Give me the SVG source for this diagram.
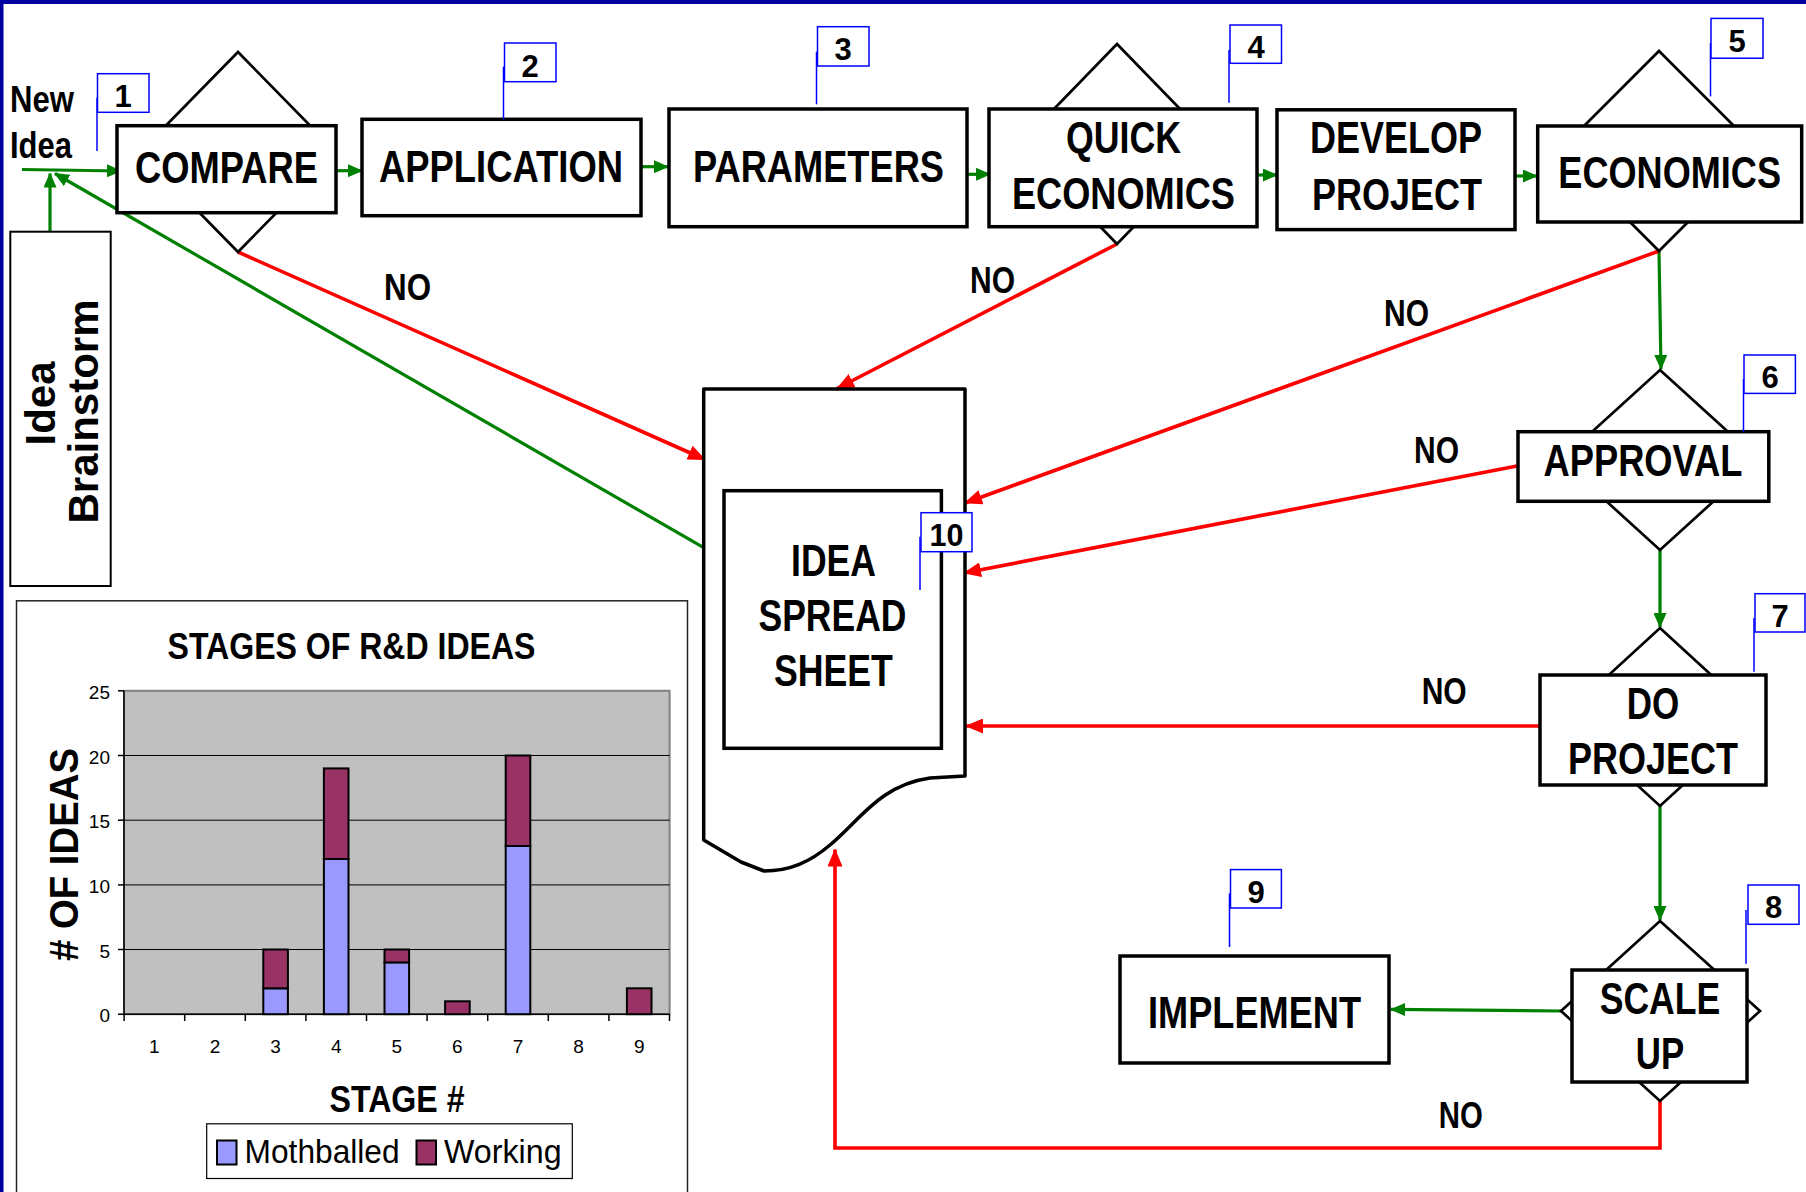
<svg xmlns="http://www.w3.org/2000/svg" width="1806" height="1192" viewBox="0 0 1806 1192">
<style>
.box{fill:#fff;stroke:#000;stroke-width:3.5}
.dia{fill:#fff;stroke:#000;stroke-width:2.7}
.lbl{font-family:"Liberation Sans Narrow","Liberation Sans",Arial,sans-serif;font-weight:bold;font-size:44px;fill:#000;text-anchor:middle}
.no{font-family:"Liberation Sans Narrow","Liberation Sans",Arial,sans-serif;font-weight:bold;font-size:36px;fill:#000}
.num{font-family:"Liberation Sans Narrow","Liberation Sans",Arial,sans-serif;font-weight:bold;font-size:31px;fill:#000;text-anchor:middle}
.tag{fill:#fff;stroke:#0000ff;stroke-width:1.5}
.lead{stroke:#0000ff;stroke-width:1.5;fill:none}
.g{stroke:#008000;stroke-width:3.2;fill:none;marker-end:url(#ga)}
.r{stroke:#ff0000;stroke-width:3.6;fill:none;marker-end:url(#ra)}
.ax{font-family:"Liberation Sans Narrow","Liberation Sans",Arial,sans-serif;font-size:19px;fill:#000}
.mb{fill:#9999ff;stroke:#000;stroke-width:2}
.wk{fill:#993366;stroke:#000;stroke-width:2}
</style>
<defs>
<marker id="ga" markerUnits="userSpaceOnUse" markerWidth="15" markerHeight="13" refX="14" refY="6.5" orient="auto"><path d="M0,0 L15,6.5 L0,13 z" fill="#008000"/></marker>
<marker id="ra" markerUnits="userSpaceOnUse" markerWidth="18" markerHeight="15" refX="17" refY="7.5" orient="auto"><path d="M0,0 L18,7.5 L0,15 z" fill="#ff0000"/></marker>
</defs>
<rect width="1806" height="1192" fill="#fff"/>
<rect x="0" y="0" width="1806" height="4" fill="#0000a0"/>
<rect x="0" y="0" width="3.5" height="1192" fill="#0000a0"/>

<!-- chart -->
<g id="chart">
<rect x="16.5" y="600.8" width="671" height="600" fill="#fff" stroke="#222" stroke-width="1.5"/>
<text x="351.5" y="658.5" class="lbl" style="font-size:36px" textLength="368" lengthAdjust="spacingAndGlyphs">STAGES OF R&amp;D IDEAS</text>
<rect x="124" y="690.8" width="545.6" height="323.4" fill="#c0c0c0" stroke="#808080" stroke-width="2"/>
<g stroke="#000" stroke-width="1">
<line x1="124" y1="755.5" x2="669.6" y2="755.5"/>
<line x1="124" y1="820.2" x2="669.6" y2="820.2"/>
<line x1="124" y1="884.9" x2="669.6" y2="884.9"/>
<line x1="124" y1="949.5" x2="669.6" y2="949.5"/>
</g>
<g stroke="#000" stroke-width="1.5">
<line x1="124" y1="690.8" x2="124" y2="1014.2"/>
<line x1="118" y1="1014.2" x2="669.6" y2="1014.2"/>
<line x1="118" y1="690.8" x2="124" y2="690.8"/>
<line x1="118" y1="755.5" x2="124" y2="755.5"/>
<line x1="118" y1="820.2" x2="124" y2="820.2"/>
<line x1="118" y1="884.9" x2="124" y2="884.9"/>
<line x1="118" y1="949.5" x2="124" y2="949.5"/>
<line x1="124.1" y1="1014.2" x2="124.1" y2="1021"/>
<line x1="184.7" y1="1014.2" x2="184.7" y2="1021"/>
<line x1="245.3" y1="1014.2" x2="245.3" y2="1021"/>
<line x1="305.9" y1="1014.2" x2="305.9" y2="1021"/>
<line x1="366.5" y1="1014.2" x2="366.5" y2="1021"/>
<line x1="427.1" y1="1014.2" x2="427.1" y2="1021"/>
<line x1="487.7" y1="1014.2" x2="487.7" y2="1021"/>
<line x1="548.3" y1="1014.2" x2="548.3" y2="1021"/>
<line x1="608.9" y1="1014.2" x2="608.9" y2="1021"/>
<line x1="669.5" y1="1014.2" x2="669.5" y2="1021"/>
</g>
<g class="ax" text-anchor="end">
<text x="110" y="699">25</text>
<text x="110" y="763.7">20</text>
<text x="110" y="828.4">15</text>
<text x="110" y="893.1">10</text>
<text x="110" y="957.7">5</text>
<text x="110" y="1022.4">0</text>
</g>
<g class="ax" text-anchor="middle">
<text x="154.4" y="1052.7">1</text>
<text x="215" y="1052.7">2</text>
<text x="275.6" y="1052.7">3</text>
<text x="336.2" y="1052.7">4</text>
<text x="396.8" y="1052.7">5</text>
<text x="457.4" y="1052.7">6</text>
<text x="518" y="1052.7">7</text>
<text x="578.6" y="1052.7">8</text>
<text x="639.2" y="1052.7">9</text>
</g>
<rect class="mb" x="263.3" y="988.3" width="24.6" height="25.9"/>
<rect class="wk" x="263.3" y="949.5" width="24.6" height="38.8"/>
<rect class="mb" x="323.9" y="859" width="24.6" height="155.2"/>
<rect class="wk" x="323.9" y="768.4" width="24.6" height="90.6"/>
<rect class="mb" x="384.5" y="962.4" width="24.6" height="51.8"/>
<rect class="wk" x="384.5" y="949.5" width="24.6" height="12.9"/>
<rect class="wk" x="445.1" y="1001.3" width="24.6" height="12.9"/>
<rect class="mb" x="505.7" y="846" width="24.6" height="168.2"/>
<rect class="wk" x="505.7" y="755.5" width="24.6" height="90.5"/>
<rect class="wk" x="626.9" y="988.3" width="24.6" height="25.9"/>
<text transform="translate(78,854.5) rotate(-90)" text-anchor="middle" style="font-family:'Liberation Sans',Arial,sans-serif;font-weight:bold;font-size:41px" textLength="213" lengthAdjust="spacingAndGlyphs"># OF IDEAS</text>
<text x="397" y="1112.3" class="lbl" style="font-size:36px" textLength="135" lengthAdjust="spacingAndGlyphs">STAGE #</text>
<rect x="206.7" y="1123.8" width="365.6" height="54.7" fill="#fff" stroke="#000" stroke-width="1.2"/>
<rect class="mb" x="217" y="1140.5" width="19.5" height="24"/>
<text x="244.6" y="1163" style="font-family:'Liberation Sans Narrow','Liberation Sans',Arial,sans-serif;font-size:34px" textLength="155" lengthAdjust="spacingAndGlyphs">Mothballed</text>
<rect class="wk" x="416.5" y="1140.5" width="19.5" height="24"/>
<text x="444" y="1163" style="font-family:'Liberation Sans Narrow','Liberation Sans',Arial,sans-serif;font-size:34px" textLength="117.6" lengthAdjust="spacingAndGlyphs">Working</text>
</g>

<!-- connectors -->
<g id="connectors">
<line class="g" x1="22" y1="169.5" x2="121" y2="171"/>
<line class="g" x1="50" y1="231.7" x2="50" y2="173.5"/>
<line class="g" x1="703.7" y1="547.7" x2="55" y2="173.5"/>
<line class="g" x1="337" y1="170.7" x2="362" y2="170.7"/>
<line class="g" x1="642" y1="166.7" x2="668" y2="166.7"/>
<line class="g" x1="968" y1="174.3" x2="990" y2="174.3"/>
<line class="g" x1="1257" y1="175" x2="1277" y2="175"/>
<line class="g" x1="1515" y1="176" x2="1537" y2="176"/>
<line class="g" x1="1659" y1="251" x2="1661" y2="369"/>
<line class="g" x1="1660" y1="550" x2="1660" y2="627"/>
<line class="g" x1="1660" y1="806" x2="1660" y2="920"/>
<line class="g" x1="1561" y1="1011" x2="1391" y2="1009.4"/>
<line class="r" x1="238" y1="252" x2="705" y2="459.5"/>
<line class="r" x1="1117" y1="244" x2="837" y2="388.5"/>
<line class="r" x1="1659" y1="251" x2="965" y2="503"/>
<line class="r" x1="1517" y1="466" x2="964" y2="573"/>
<line class="r" x1="1540" y1="726" x2="966" y2="726"/>
<polyline class="r" points="1660,1101 1660,1148 835,1148 835,849.5"/>
</g>

<g id="no-labels">
<text class="no" x="384" y="300" textLength="47" lengthAdjust="spacingAndGlyphs">NO</text>
<text class="no" x="970" y="293.3" textLength="45" lengthAdjust="spacingAndGlyphs">NO</text>
<text class="no" x="1384" y="326" textLength="45" lengthAdjust="spacingAndGlyphs">NO</text>
<text class="no" x="1414" y="463" textLength="45" lengthAdjust="spacingAndGlyphs">NO</text>
<text class="no" x="1421.7" y="704" textLength="45" lengthAdjust="spacingAndGlyphs">NO</text>
<text class="no" x="1438.8" y="1128" textLength="44" lengthAdjust="spacingAndGlyphs">NO</text>
</g>

<g id="new-idea">
<text class="no" x="10" y="111.7" style="font-size:37px" textLength="64" lengthAdjust="spacingAndGlyphs">New</text>
<text class="no" x="10" y="158" style="font-size:37px" textLength="62" lengthAdjust="spacingAndGlyphs">Idea</text>
</g>

<g id="idea-brainstorm">
<rect x="10.3" y="231.7" width="100.4" height="354.3" fill="#fff" stroke="#000" stroke-width="2"/>
<text transform="translate(55,403.5) rotate(-90)" text-anchor="middle" style="font-family:'Liberation Sans',Arial,sans-serif;font-weight:bold;font-size:42px">Idea</text>
<text transform="translate(98,411.5) rotate(-90)" text-anchor="middle" style="font-family:'Liberation Sans',Arial,sans-serif;font-weight:bold;font-size:42px" textLength="224" lengthAdjust="spacingAndGlyphs">Brainstorm</text>
</g>

<g id="compare">
<polygon class="dia" points="238,52 336,152 238,252 140,152"/>
<rect class="box" x="117" y="125.7" width="219" height="87"/>
<text class="lbl" x="226.5" y="183.3" textLength="183" lengthAdjust="spacingAndGlyphs">COMPARE</text>
</g>
<g id="application">
<rect class="box" x="362" y="119.3" width="279" height="96.4"/>
<text class="lbl" x="501" y="181.7" textLength="244" lengthAdjust="spacingAndGlyphs">APPLICATION</text>
</g>
<g id="parameters">
<rect class="box" x="669" y="109" width="298" height="117.7"/>
<text class="lbl" x="818.5" y="181.7" textLength="251" lengthAdjust="spacingAndGlyphs">PARAMETERS</text>
</g>
<g id="quick-economics">
<polygon class="dia" points="1117,44 1214,144 1117,244 1020,144"/>
<rect class="box" x="989" y="109" width="268" height="117.7"/>
<text class="lbl" x="1123.5" y="153.3" textLength="115" lengthAdjust="spacingAndGlyphs">QUICK</text>
<text class="lbl" x="1123.5" y="209.3" textLength="223" lengthAdjust="spacingAndGlyphs">ECONOMICS</text>
</g>
<g id="develop-project">
<rect class="box" x="1277" y="109.8" width="238" height="119.8"/>
<text class="lbl" x="1396" y="153" textLength="172" lengthAdjust="spacingAndGlyphs">DEVELOP</text>
<text class="lbl" x="1397" y="209.7" textLength="170" lengthAdjust="spacingAndGlyphs">PROJECT</text>
</g>
<g id="economics">
<polygon class="dia" points="1659,51 1759,151 1659,251 1559,151"/>
<rect class="box" x="1537.7" y="126" width="264" height="96"/>
<text class="lbl" x="1669.7" y="188.3" textLength="222.7" lengthAdjust="spacingAndGlyphs">ECONOMICS</text>
</g>
<g id="approval">
<polygon class="dia" points="1660,370 1759,460 1660,550 1561,460"/>
<rect class="box" x="1518" y="431.7" width="250.8" height="69.6"/>
<text class="lbl" x="1643" y="475.7" textLength="199" lengthAdjust="spacingAndGlyphs">APPROVAL</text>
</g>
<g id="do-project">
<polygon class="dia" points="1660,628 1757,717 1660,806 1563,717"/>
<rect class="box" x="1540" y="675" width="226" height="110"/>
<text class="lbl" x="1653" y="718.6" textLength="52.5" lengthAdjust="spacingAndGlyphs">DO</text>
<text class="lbl" x="1653" y="774.4" textLength="170" lengthAdjust="spacingAndGlyphs">PROJECT</text>
</g>
<g id="scale-up">
<polygon class="dia" points="1660,921 1760,1011 1660,1101 1561,1011"/>
<rect class="box" x="1572" y="970" width="175" height="112"/>
<text class="lbl" x="1660" y="1014.4" textLength="120.6" lengthAdjust="spacingAndGlyphs">SCALE</text>
<text class="lbl" x="1660" y="1069" textLength="48.4" lengthAdjust="spacingAndGlyphs">UP</text>
</g>
<g id="implement">
<rect class="box" x="1120" y="956" width="269" height="107"/>
<text class="lbl" x="1254.5" y="1028" textLength="213" lengthAdjust="spacingAndGlyphs">IMPLEMENT</text>
</g>
<g id="idea-spreadsheet">
<path d="M703.7,389 H965 V776 L930,778 C880,785 860,820 830,845 C810,862 790,871 764,871 L741,862 L703.7,840 Z" fill="#fff" stroke="#000" stroke-width="3.5" stroke-linejoin="round"/>
<rect class="box" x="724" y="490.7" width="217.4" height="257.6"/>
<text class="lbl" x="833.5" y="576" textLength="85" lengthAdjust="spacingAndGlyphs">IDEA</text>
<text class="lbl" x="832.5" y="631" textLength="148" lengthAdjust="spacingAndGlyphs">SPREAD</text>
<text class="lbl" x="833.4" y="686" textLength="119" lengthAdjust="spacingAndGlyphs">SHEET</text>
</g>

<g id="stage-tags">
<line class="lead" x1="97" y1="97.7" x2="97" y2="151"/>
<rect class="tag" x="97.5" y="73.7" width="51.5" height="38.6"/>
<text class="num" x="123" y="106.7">1</text>
<line class="lead" x1="503.5" y1="66.7" x2="503.5" y2="119.3"/>
<rect class="tag" x="504.5" y="43" width="51.5" height="38.7"/>
<text class="num" x="530" y="76.7">2</text>
<line class="lead" x1="816.5" y1="51.7" x2="816.5" y2="104.3"/>
<rect class="tag" x="817.5" y="26.7" width="51.5" height="39.3"/>
<text class="num" x="843" y="60">3</text>
<line class="lead" x1="1229" y1="50" x2="1229" y2="102.7"/>
<rect class="tag" x="1230" y="25" width="51.5" height="38.3"/>
<text class="num" x="1256" y="58.3">4</text>
<line class="lead" x1="1710.5" y1="43" x2="1710.5" y2="96.4"/>
<rect class="tag" x="1711" y="18.4" width="52" height="39.8"/>
<text class="num" x="1737" y="51.7">5</text>
<line class="lead" x1="1743.5" y1="379" x2="1743.5" y2="431.7"/>
<rect class="tag" x="1744" y="355" width="51.4" height="38.4"/>
<text class="num" x="1770" y="388.4">6</text>
<line class="lead" x1="1754" y1="618" x2="1754" y2="671.7"/>
<rect class="tag" x="1755" y="593.7" width="50" height="38.3"/>
<text class="num" x="1780" y="626.8">7</text>
<line class="lead" x1="1746" y1="910" x2="1746" y2="963.7"/>
<rect class="tag" x="1748" y="885" width="51" height="39.3"/>
<text class="num" x="1773.5" y="917.6">8</text>
<line class="lead" x1="1229.5" y1="893.4" x2="1229.5" y2="947"/>
<rect class="tag" x="1230.5" y="869.6" width="50.9" height="38.4"/>
<text class="num" x="1256" y="903">9</text>
<line class="lead" x1="920" y1="536.7" x2="920" y2="590"/>
<rect class="tag" x="921" y="512.7" width="51" height="39"/>
<text class="num" x="946.5" y="546" textLength="34" lengthAdjust="spacingAndGlyphs">10</text>
</g>
</svg>
